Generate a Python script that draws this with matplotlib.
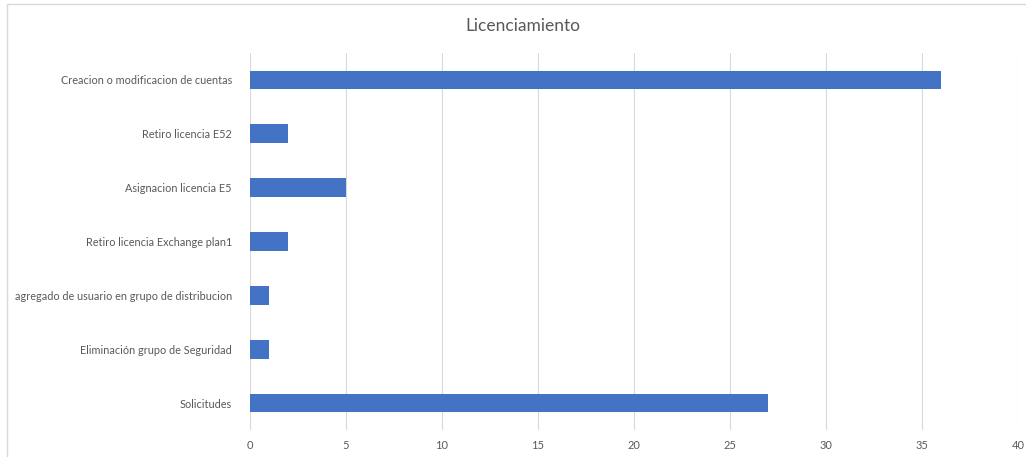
import matplotlib
matplotlib.use("Agg")
import matplotlib.pyplot as plt
from matplotlib.patches import Rectangle

categories = [
    "Creacion o modificacion de cuentas",
    "Retiro licencia E52",
    "Asignacion licencia E5",
    "Retiro licencia Exchange plan1",
    "agregado de usuario en grupo de distribucion",
    "Eliminación grupo de Seguridad",
    "Solicitudes",
]
values = [36, 2, 5, 2, 1, 1, 27]
xticks = [0, 5, 10, 15, 20, 25, 30, 35, 40]

W, H = 1026, 457
fig = plt.figure(figsize=(W / 100, H / 100), dpi=100)
plt.rcParams['font.family'] = ['Lato', 'DejaVu Sans']

fig.patches.append(Rectangle((7 / W, -0.1), 1.2, 1 - 4 / H + 0.1, transform=fig.transFigure,
                             fill=False, edgecolor="#D9D9D9", linewidth=1))

ax = fig.add_axes([250 / W, 1 - 430 / H, (1018 - 250) / W, (430 - 53) / H])
y = list(range(len(categories)))
ax.barh(y, values, height=0.35, color="#4472C4", zorder=3)
ax.set_ylim(len(categories) - 0.5, -0.5)
ax.set_xlim(0, 40)
ax.set_xticks(xticks)
ax.set_xticklabels([str(t) for t in xticks], fontsize=8, color="#595959")
ax.set_yticks(y)
ax.set_yticklabels(categories, fontsize=7.8, color="#595959")
ax.tick_params(axis="both", length=0, pad=7)
ax.tick_params(axis="y", pad=13)
ax.grid(axis="x", color="#D9D9D9", linewidth=0.8, zorder=0)
for s in ax.spines.values():
    s.set_visible(False)

fig.text(523 / W, 1 - 26 / H, "Licenciamiento", ha="center", va="center", fontsize=12.5, color="#595959")

fig.savefig("out.png", dpi=100)
